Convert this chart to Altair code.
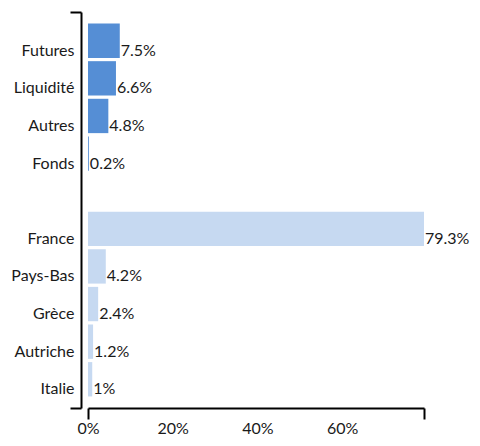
import altair as alt
import pandas as pd

categories = ["Futures", "Liquidité", "Autres", "Fonds", " ", "France", "Pays-Bas", "Grèce", "Autriche", "Italie"]
bar_categories = ["Futures", "Liquidité", "Autres", "Fonds", "France", "Pays-Bas", "Grèce", "Autriche", "Italie"]
values = [7.5, 6.6, 4.8, 0.2, 79.3, 4.2, 2.4, 1.2, 1.0]
labels = ["7.5%", "6.6%", "4.8%", "0.2%", "79.3%", "4.2%", "2.4%", "1.2%", "1%"]
groups = ["Type", "Type", "Type", "Type", "Pays", "Pays", "Pays", "Pays", "Pays"]
x_ticks = [0, 20, 40, 60]
x_max = 79.3

df = pd.DataFrame({"cat": bar_categories, "value": values, "label": labels, "group": groups})
dummy = pd.DataFrame({"x": [0.0], "y": [0.0]})

FONT = "Lato"
xscale = alt.Scale(domain=[0, x_max], nice=False, zero=True)
yscale = alt.Scale(domain=categories, paddingInner=0.087, paddingOuter=0.307)

bars = alt.Chart(df).mark_bar().encode(
    x=alt.X("value:Q", scale=xscale,
            axis=alt.Axis(values=x_ticks, labelExpr="datum.value + '%'", domain=False, ticks=False,
                          grid=False, labelPadding=12, labelFont=FONT, labelFontSize=16, labelFlush=False,
                          labelColor="#1a1a1a", title=None, orient="bottom")),
    y=alt.Y("cat:N", scale=yscale, sort=categories,
            axis=alt.Axis(domain=False, ticks=False, grid=False, labelPadding=14, labelOffset=10,
                          labelFont=FONT, labelFontSize=16, labelColor="#1a1a1a", title=None)),
    color=alt.Color("group:N", scale=alt.Scale(domain=["Type", "Pays"], range=["#558ED5", "#C6D9F1"]),
                    legend=None),
)

text = alt.Chart(df).mark_text(align="left", baseline="middle", dx=1, dy=10, font=FONT, fontSize=16,
                               color="#1a1a1a").encode(
    x=alt.X("value:Q", scale=xscale),
    y=alt.Y("cat:N", scale=yscale, sort=categories),
    text="label:N",
)

main = alt.layer(bars, text)

frame = alt.Chart(dummy).mark_point(opacity=0, size=0).encode(
    x=alt.X("x:Q", scale=alt.Scale(domain=[0, x_max], nice=False, zero=True),
            axis=alt.Axis(values=[0, x_max], labels=False, ticks=True, tickSize=11, tickWidth=2,
                          tickColor="black", domain=True, domainWidth=2, domainColor="black",
                          grid=False, title=None, orient="bottom")),
    y=alt.Y("y:Q", scale=alt.Scale(domain=[0, 1], nice=False, zero=True),
            axis=alt.Axis(values=[0, 1], labels=False, ticks=True, tickSize=11, tickWidth=2,
                          tickColor="black", domain=True, domainWidth=2, domainColor="black",
                          grid=False, title=None, orient="left", offset=7)),
)

chart = alt.layer(main, frame).resolve_scale(x="independent", y="independent").resolve_axis(
    x="independent", y="independent"
).properties(
    width=336, height=396,
    background="white",
    autosize=alt.AutoSizeParams(type="none"),
    padding={"left": 80, "top": 4, "right": 48, "bottom": 30},
).configure_view(strokeWidth=0, stroke="transparent").configure_axis(grid=False)

chart.save("out.html", embed_options={"renderer": "svg", "actions": False})
